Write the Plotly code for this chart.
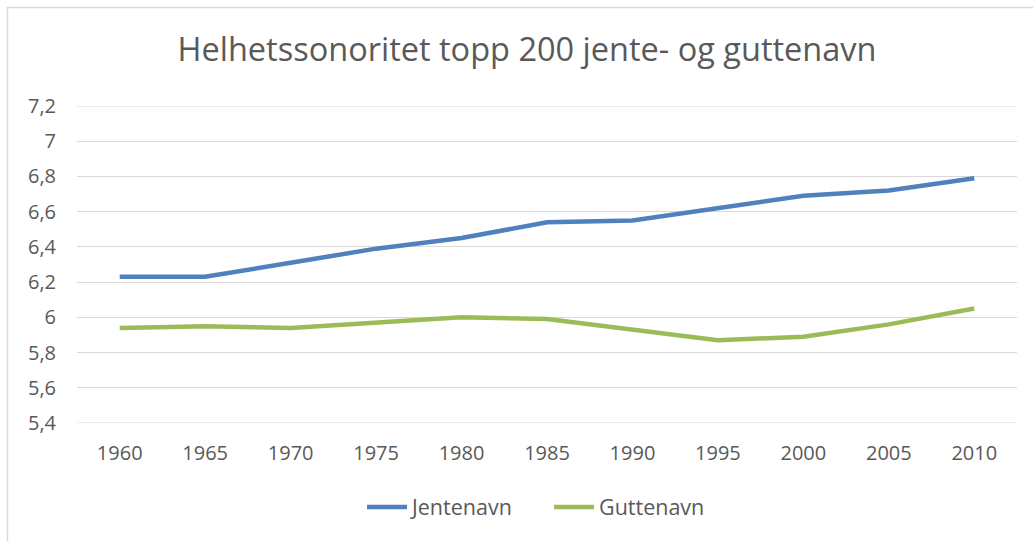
import plotly.graph_objects as go

years = ["1960", "1965", "1970", "1975", "1980", "1985", "1990", "1995", "2000", "2005", "2010"]
jentenavn = [6.23, 6.23, 6.31, 6.39, 6.45, 6.54, 6.55, 6.62, 6.69, 6.72, 6.79]
guttenavn = [5.94, 5.95, 5.94, 5.97, 6.00, 5.99, 5.93, 5.87, 5.89, 5.96, 6.05]
y_min, y_max, y_step = 5.4, 7.2, 0.2

title_text = "Helhetssonoritet topp 200 jente- og guttenavn"
font_family = "Open Sans, Noto Sans, sans-serif"
text_color = "#595959"
grid_color = "#D9D9D9"

fig = go.Figure()
fig.add_trace(go.Scatter(x=years, y=jentenavn, mode="lines", name="Jentenavn",
                         line=dict(color="#4F81BD", width=4.5)))
fig.add_trace(go.Scatter(x=years, y=guttenavn, mode="lines", name="Guttenavn",
                         line=dict(color="#9BBB59", width=4.5)))

W, H = 1033, 541
ml, mr, mt, mb = 77, 16, 106, 118
pw = W - ml - mr
ph = H - mt - mb

# edge gridlines (plotly hides gridlines lying exactly on the plot edges)
edge_lines = [dict(type="line", xref="paper", yref="y", x0=0, x1=1, y0=v, y1=v,
                   line=dict(color=grid_color, width=1), layer="below")
              for v in (y_min, y_max)]

border = dict(type="rect", xref="paper", yref="paper",
              x0=(7.5 - ml) / pw, x1=1.2,
              y0=-1.0, y1=1 + (mt - 7.5) / ph,
              line=dict(color=grid_color, width=1.5), fillcolor="rgba(0,0,0,0)",
              layer="below")

fig.update_layout(
    width=W, height=H,
    margin=dict(l=ml, r=mr, t=mt, b=mb),
    paper_bgcolor="white", plot_bgcolor="white",
    separators=", ",
    font=dict(family=font_family, color=text_color, size=20),
    title=dict(text=title_text, x=527 / W, xanchor="center", xref="container",
               y=1 - 50 / H, yanchor="middle", yref="container",
               font=dict(family=font_family, size=32.5, color=text_color)),
    xaxis=dict(type="category", range=[-0.5, len(years) - 0.5],
               showgrid=False, showline=False, zeroline=False,
               ticks="", ticklabelstandoff=16,
               tickfont=dict(size=20, color=text_color)),
    yaxis=dict(range=[y_min, y_max], dtick=y_step, tick0=y_min, showgrid=True,
               gridcolor=grid_color, gridwidth=1, zeroline=False, showline=False,
               ticks="", ticklabelstandoff=20,
               tickfont=dict(size=20, color=text_color)),
    legend=dict(orientation="h", x=(362 - ml) / pw, xanchor="left",
                y=(mt + ph - 507) / ph, yanchor="middle",
                font=dict(size=21.5, color=text_color), itemwidth=40,
                entrywidth=132, entrywidthmode="pixels"),
    showlegend=True,
    shapes=[border] + edge_lines,
)

fig.write_html("out.html", config={"displayModeBar": False})

# remove the default browser body margin so the figure sits at the page origin
with open("out.html", "r", encoding="utf-8") as f:
    html = f.read()
html = html.replace("<head>", "<head><style>html,body{margin:0;padding:0;}</style>", 1)
with open("out.html", "w", encoding="utf-8") as f:
    f.write(html)
